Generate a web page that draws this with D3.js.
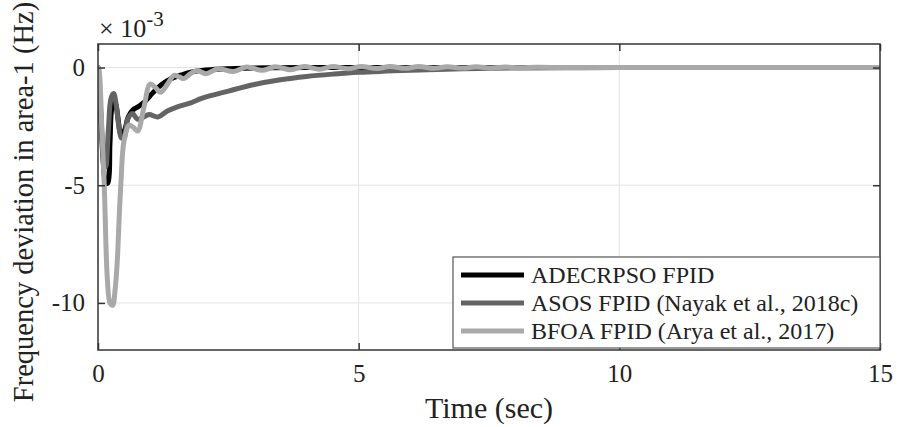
<!DOCTYPE html>
<html>
<head>
<meta charset="utf-8">
<script src="https://cdn.jsdelivr.net/npm/d3@7"></script>
<style>
  html, body { margin: 0; padding: 0; background: #fff; }
  svg { display: block; }
  text { font-family: "Liberation Serif", "Times New Roman", serif; fill: #222; }
</style>
</head>
<body>
<svg id="chart" width="898" height="427"></svg>
<script>
// Frequency deviation in area-1 (units of 1e-3 Hz) versus time (s)
const seriesNames = ["ADECRPSO FPID", "ASOS FPID (Nayak et al., 2018c)", "BFOA FPID (Arya et al., 2017)"];
const seriesColors = ["#000000", "#646464", "#a9a9a9"];

const timeADECRPSO = [0, 0.05, 0.1, 0.15, 0.19, 0.23, 0.28, 0.33, 0.38, 0.44, 0.5, 0.58, 0.67, 0.78, 0.9, 1.0, 1.15, 1.3, 1.46, 1.62, 1.78, 2.0, 2.4, 2.8, 3.3, 4, 5, 6, 8, 10, 15];
const freqADECRPSO = [0, -1.9, -4.0, -4.9, -4.9, -3.2, -1.6, -1.5, -2.1, -2.8, -2.7, -2.1, -1.8, -1.65, -1.45, -1.2, -0.85, -0.6, -0.42, -0.3, -0.2, -0.12, -0.06, -0.03, -0.01, 0, 0, 0, 0, 0, 0];

const timeASOS = [0, 0.05, 0.1, 0.15, 0.2, 0.25, 0.3, 0.35, 0.4, 0.45, 0.5, 0.57, 0.66, 0.76, 0.88, 0.98, 1.15, 1.33, 1.55, 1.78, 2.0, 2.5, 3.0, 3.5, 4.0, 4.5, 5.0, 6.0, 7.0, 8.0, 9.0, 10, 15];
const freqASOS = [0, -1.7, -3.6, -4.2, -2.6, -1.3, -1.1, -1.6, -2.5, -3.0, -3.0, -2.2, -1.95, -2.2, -2.1, -2.0, -2.1, -1.85, -1.65, -1.5, -1.3, -1.0, -0.72, -0.52, -0.38, -0.28, -0.2, -0.11, -0.05, -0.02, -0.01, 0, 0];

const timeBFOA = [0, 0.02, 0.07, 0.12, 0.18, 0.23, 0.28, 0.33, 0.37, 0.41, 0.44, 0.5, 0.6, 0.68, 0.76, 0.88, 1.0, 1.1, 1.2, 1.32, 1.46, 1.56, 1.65, 1.78, 1.9, 2.07, 2.3, 2.6, 2.85, 3.15, 3.4, 3.7, 3.95, 4.25, 4.5, 4.8, 5.05, 5.35, 5.6, 5.9, 6.15, 6.45, 6.7, 7.0, 7.25, 7.55, 7.8, 8.1, 8.4, 9, 10, 15];
const freqBFOA = [0, -0.1, -2.4, -5.0, -9.0, -10.0, -10.1, -9.4, -8.2, -6.2, -4.9, -3.1, -2.45, -2.55, -2.7, -1.7, -0.7, -0.85, -1.05, -0.75, -0.33, -0.4, -0.47, -0.25, -0.13, -0.26, -0.05, -0.17, 0.02, -0.12, 0.03, -0.09, 0.04, -0.07, 0.04, -0.05, 0.04, -0.04, 0.04, -0.03, 0.04, -0.03, 0.03, -0.02, 0.03, -0.02, 0.02, -0.01, 0.01, 0, 0, 0];

const xTicks = [0, 5, 10, 15];
const yTicks = [0, -5, -10];
const xDomain = [0, 15];
const yDomain = [-12, 1];

const series = [
  { name: seriesNames[0], color: seriesColors[0], t: timeADECRPSO, v: freqADECRPSO },
  { name: seriesNames[1], color: seriesColors[1], t: timeASOS, v: freqASOS },
  { name: seriesNames[2], color: seriesColors[2], t: timeBFOA, v: freqBFOA }
];

const serif = "'Liberation Serif', 'Times New Roman', serif";
const svg = d3.select("#chart");
const margin = { left: 98, right: 18, top: 44, bottom: 77 };
const W = 898, H = 427;
const innerW = W - margin.left - margin.right;
const innerH = H - margin.top - margin.bottom;

const x = d3.scaleLinear().domain(xDomain).range([0, innerW]);
const y = d3.scaleLinear().domain(yDomain).range([innerH, 0]);

const g = svg.append("g").attr("transform", `translate(${margin.left},${margin.top})`);

// grid
g.append("g").selectAll("line.gx").data(xTicks.filter(d => d > xDomain[0] && d < xDomain[1]))
  .join("line").attr("x1", d => x(d)).attr("x2", d => x(d)).attr("y1", 0).attr("y2", innerH)
  .attr("stroke", "#e3e3e3").attr("stroke-width", 1);
g.append("g").selectAll("line.gy").data(yTicks)
  .join("line").attr("x1", 0).attr("x2", innerW).attr("y1", d => y(d)).attr("y2", d => y(d))
  .attr("stroke", "#e3e3e3").attr("stroke-width", 1);

// series
svg.append("clipPath").attr("id", "clip").append("rect")
  .attr("width", innerW).attr("height", innerH);
const line = d3.line().x(d => x(d[0])).y(d => y(d[1])).curve(d3.curveCatmullRom.alpha(0.5));
g.append("g").attr("clip-path", "url(#clip)").selectAll("path").data(series).join("path")
  .attr("d", s => line(s.t.map((t, i) => [t, s.v[i]])))
  .attr("fill", "none").attr("stroke", s => s.color).attr("stroke-width", 5)
  .attr("stroke-linejoin", "round").attr("stroke-linecap", "round");

// axes (ticks pointing inward, mirrored on top/right)
const tickLen = 7;
const xAxisB = d3.axisBottom(x).tickValues(xTicks).tickSize(-tickLen).tickPadding(14).tickFormat(d3.format("d"));
const xAxisT = d3.axisTop(x).tickValues(xTicks).tickSize(-tickLen).tickFormat("");
const yAxisL = d3.axisLeft(y).tickValues(yTicks).tickSize(-tickLen).tickPadding(13).tickFormat(d => d < 0 ? "-" + Math.abs(d) : d);
const yAxisR = d3.axisRight(y).tickValues(yTicks).tickSize(-tickLen).tickFormat("");

function styleAxis(sel) {
  sel.attr("font-family", serif).attr("font-size", 25);
  sel.select(".domain").remove();
  sel.selectAll(".tick line").attr("stroke", "#333").attr("stroke-width", 1.5);
  sel.selectAll(".tick text").style("font-family", serif).style("font-size", "25px").attr("fill", "#222");
}
g.append("g").attr("transform", `translate(0,${innerH})`).call(xAxisB).call(styleAxis);
g.append("g").call(xAxisT).call(styleAxis);
g.append("g").call(yAxisL).call(styleAxis);
g.append("g").attr("transform", `translate(${innerW},0)`).call(yAxisR).call(styleAxis);

// frame
g.append("rect").attr("width", innerW).attr("height", innerH)
  .attr("fill", "none").attr("stroke", "#333").attr("stroke-width", 1.5);

// exponent label
const ex = svg.append("text").attr("x", margin.left + 1).attr("y", 37)
  .style("font-family", serif).style("font-size", "26px");
ex.append("tspan").text("\u00d7 10");
ex.append("tspan").attr("dy", -11).style("font-size", "21px").text("-3");

// axis titles
svg.append("text").attr("x", margin.left + innerW / 2).attr("y", 418)
  .attr("text-anchor", "middle").style("font-family", serif).style("font-size", "30px").text("Time (sec)");
svg.append("text").attr("transform", `translate(33,202) rotate(-90)`)
  .attr("text-anchor", "middle").style("font-family", serif).style("font-size", "28.5px")
  .text("Frequency deviation in area-1 (Hz)");

// legend
const lgX = 453 - margin.left, lgY = 257 - margin.top;
const lg = g.append("g").attr("transform", `translate(${lgX},${lgY})`);
const lgW = innerW - lgX, lgH = innerH - lgY - 2;
lg.append("rect").attr("width", lgW).attr("height", lgH)
  .attr("fill", "#fff").attr("stroke", "#555").attr("stroke-width", 1.2);
series.forEach((s, i) => {
  const yy = 18 + i * 28;
  lg.append("line").attr("x1", 8).attr("x2", 71).attr("y1", yy).attr("y2", yy)
    .attr("stroke", s.color).attr("stroke-width", 5);
  lg.append("text").attr("x", 78).attr("y", yy + 8)
    .style("font-family", serif).style("font-size", "24px").text(s.name);
});
</script>
</body>
</html>
